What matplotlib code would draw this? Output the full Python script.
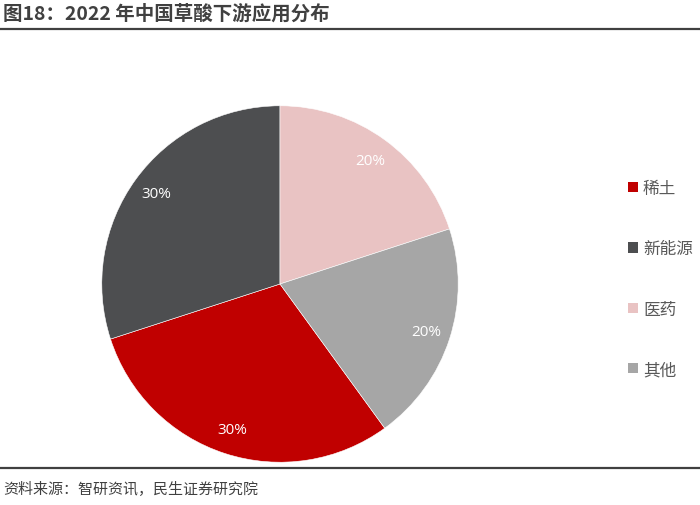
import matplotlib.pyplot as plt
from matplotlib.lines import Line2D

plt.rcParams['font.family'] = ['Noto Sans CJK SC', 'DejaVu Sans']

# data
categories = ['稀土', '新能源', '医药', '其他']
shares = [30, 30, 20, 20]
colors = ['#C00000', '#4D4E50', '#E9C3C3', '#A6A6A6']

title = '图18：2022 年中国草酸下游应用分布'
source = '资料来源：智研资讯，民生证券研究院'

fig = plt.figure(figsize=(7, 5.06), dpi=100)

# title + rules
fig.text(0.004, 0.972, title, fontsize=14, weight='bold', color='#404040',
         va='center', ha='left')
fig.add_artist(Line2D([0, 1], [1 - 29.5 / 506] * 2, color='#404040', lw=1.6))
fig.add_artist(Line2D([0, 1], [1 - 469 / 506] * 2, color='#404040', lw=1.6))
fig.text(0.004, 1 - 490 / 506, source, fontsize=10.8, color='#404040',
         va='center', ha='left')

# pie
ax = fig.add_axes([100 / 700, 41 / 506, 360 / 700, 360 / 506])
wedges, texts, autotexts = ax.pie(
    shares, colors=colors, startangle=-54, counterclock=False, radius=1,
    autopct='%d%%', pctdistance=0.86,
    wedgeprops=dict(edgecolor='white', linewidth=0.4),
    textprops=dict(color='white', fontsize=11))
for t in autotexts:
    t.set_family(['Open Sans', 'DejaVu Sans'])
ax.set_xlim(-1.01, 1.01)
ax.set_ylim(-1.01, 1.01)
ax.set_aspect('equal')
ax.axis('off')

leg = fig.legend(wedges, categories, loc='center left',
                 bbox_to_anchor=(613 / 700, 1 - 280 / 506),
                 frameon=False, fontsize=12, labelspacing=2.6,
                 handlelength=0.6, handleheight=0.6, handletextpad=0.3)
for t in leg.get_texts():
    t.set_color('#595959')
for h in leg.legend_handles:
    h.set_edgecolor('none')

fig.savefig('out.png', dpi=100)
